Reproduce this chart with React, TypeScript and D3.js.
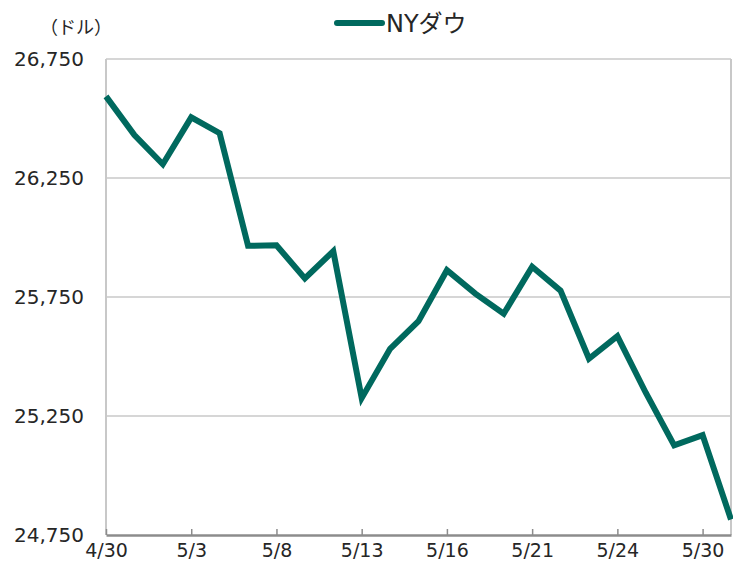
import { useRef, useEffect } from 'react';
import * as d3 from 'd3';

// NYダウ 終値（ドル）
const dates = [
  '4/30', '5/1', '5/2', '5/3', '5/6', '5/7', '5/8', '5/9', '5/10', '5/13',
  '5/14', '5/15', '5/16', '5/17', '5/20', '5/21', '5/22', '5/23', '5/24',
  '5/28', '5/29', '5/30', '5/31',
];
const closes = [
  26592.91, 26430.14, 26307.79, 26504.95, 26438.48, 25965.09, 25967.33,
  25828.36, 25942.37, 25324.99, 25532.05, 25648.02, 25862.68, 25764.0,
  25679.9, 25877.33, 25776.61, 25490.47, 25585.69, 25347.77, 25126.41,
  25169.88, 24815.04,
];
const yTicks = [24750, 25250, 25750, 26250, 26750];
const xTickLabels = ['4/30', '5/3', '5/8', '5/13', '5/16', '5/21', '5/24', '5/30'];
const seriesName = 'NYダウ';
const unitLabel = '（ドル）';

const WIDTH = 733;
const HEIGHT = 563;
const LINE_COLOR = '#00695e';
const FONT = "'DejaVu Sans', 'Noto Sans CJK JP', sans-serif";

export default function App() {
  const svgRef = useRef<SVGSVGElement | null>(null);

  useEffect(() => {
    const margin = { top: 59, right: 1, bottom: 28, left: 106 };
    const innerWidth = WIDTH - margin.left - margin.right;
    const innerHeight = HEIGHT - margin.top - margin.bottom;

    d3.select(svgRef.current).selectAll('*').remove();
    const svg = d3.select(svgRef.current)
      .attr('width', WIDTH)
      .attr('height', HEIGHT)
      .style('font-family', FONT);

    const g = svg.append('g')
      .attr('transform', `translate(${margin.left},${margin.top})`);

    const x = d3.scalePoint<string>()
      .domain(dates)
      .range([0, innerWidth - 1]);

    const y = d3.scaleLinear()
      .domain([24750, 26750])
      .range([innerHeight, 0]);

    // 横グリッド
    g.append('g')
      .selectAll('line')
      .data(yTicks.slice(1))
      .join('line')
      .attr('x1', 0)
      .attr('x2', innerWidth - 1)
      .attr('y1', d => y(d))
      .attr('y2', d => y(d))
      .attr('stroke', '#c8c8c8')
      .attr('stroke-width', 1.5);

    // 左右の枠
    g.append('line')
      .attr('x1', 0).attr('x2', 0)
      .attr('y1', 0).attr('y2', innerHeight)
      .attr('stroke', '#c8c8c8').attr('stroke-width', 2);
    g.append('line')
      .attr('x1', innerWidth - 1).attr('x2', innerWidth - 1)
      .attr('y1', 0).attr('y2', innerHeight)
      .attr('stroke', '#c8c8c8').attr('stroke-width', 2);

    // Y軸ラベル
    g.append('g')
      .selectAll('text')
      .data(yTicks)
      .join('text')
      .attr('x', -22)
      .attr('y', d => y(d))
      .attr('dy', '0.36em')
      .attr('text-anchor', 'end')
      .style('font-size', '20px')
      .attr('fill', '#262626')
      .text(d => d3.format(',')(d));

    // X軸
    const xAxis = d3.axisBottom(x)
      .tickValues(xTickLabels)
      .tickSize(-6)
      .tickSizeOuter(0)
      .tickPadding(9);
    const xg = g.append('g')
      .attr('transform', `translate(0,${innerHeight})`)
      .call(xAxis);
    xg.select('.domain').attr('stroke', '#8c8c8c').attr('stroke-width', 2.5);
    xg.selectAll('.tick line').attr('stroke', '#8c8c8c').attr('stroke-width', 1.5);
    xg.selectAll('.tick text')
      .style('font-size', '19px')
      .style('font-family', FONT)
      .attr('fill', '#262626');

    // 折れ線
    const line = d3.line<number>()
      .x((_, i) => x(dates[i]) ?? 0)
      .y(d => y(d));
    g.append('path')
      .datum(closes)
      .attr('fill', 'none')
      .attr('stroke', LINE_COLOR)
      .attr('stroke-width', 6)
      .attr('stroke-linejoin', 'miter')
      .attr('d', line);

    // 単位
    svg.append('text')
      .attr('x', 76)
      .attr('y', 28)
      .attr('text-anchor', 'middle')
      .attr('dy', '0.35em')
      .style('font-size', '18px')
      .attr('fill', '#262626')
      .text(unitLabel);

    // 凡例
    const legend = svg.append('g').attr('transform', 'translate(337,23)');
    legend.append('line')
      .attr('x1', 0).attr('x2', 45)
      .attr('y1', 0).attr('y2', 0)
      .attr('stroke', LINE_COLOR)
      .attr('stroke-width', 6)
      .attr('stroke-linecap', 'round');
    legend.append('text')
      .attr('x', 49)
      .attr('y', 0)
      .attr('dy', '0.36em')
      .style('font-size', '24px')
      .attr('fill', '#262626')
      .text(seriesName);
  }, []);

  return (
    <svg
      ref={svgRef}
      style={{ position: 'absolute', left: 0, top: 0, background: '#fff' }}
    />
  );
}
